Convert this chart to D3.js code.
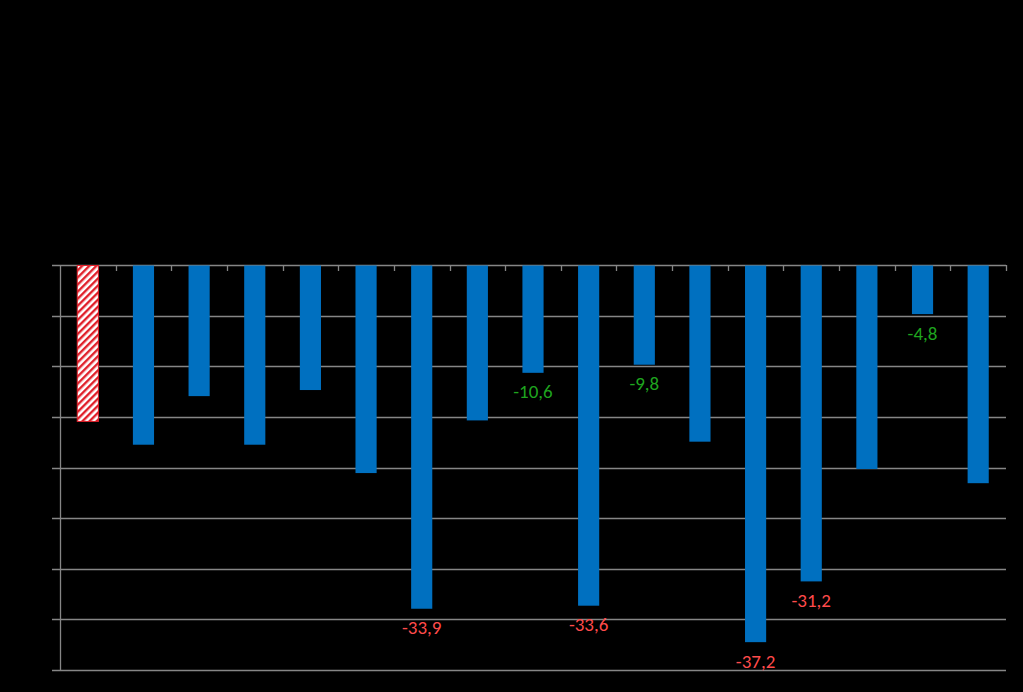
<!DOCTYPE html>
<html><head><meta charset="utf-8">
<script src="https://cdn.jsdelivr.net/npm/d3@7"></script>
<style>html,body{margin:0;padding:0;background:#000;}svg{display:block;}</style>
</head><body>
<svg id="c" width="1023" height="692"></svg>
<script>
const categories = ["1","2","3","4","5","6","7","8","9","10","11","12","13","14","15","16","17"];
const values = [-15.4,-17.7,-12.9,-17.7,-12.3,-20.5,-33.9,-15.3,-10.6,-33.6,-9.8,-17.4,-37.2,-31.2,-20.1,-4.8,-21.5];
const labelText = ["","","","","","","-33,9","","-10,6","-33,6","-9,8","","-37,2","-31,2","","-4,8",""];
const labelKind = ["","","","","","","bad","","good","bad","good","","bad","bad","","good",""];
const yTicks = [0,-5,-10,-15,-20,-25,-30,-35,-40];

(function(){
const svg = d3.select("#c");
const mLeft = 60, mRight = 1006, mTop = 265, mBottom = 670;
const x = d3.scaleBand().domain(categories).range([mLeft, mRight]).paddingInner(0.62).paddingOuter(0.31);
const y = d3.scaleLinear().domain([0, -40]).range([mTop, mBottom]);

const defs = svg.append("defs");
const pat = defs.append("pattern").attr("id","hatch").attr("patternUnits","userSpaceOnUse")
  .attr("width",5).attr("height",5).attr("patternTransform","rotate(45)");
pat.append("rect").attr("width",5).attr("height",5).attr("fill","#fff");
pat.append("rect").attr("width",2.4).attr("height",5).attr("fill","#e0202a");

// gridlines
svg.append("g").selectAll("line").data(yTicks).join("line")
  .attr("x1", 52).attr("x2", mRight).attr("y1", d=>Math.round(y(d))+0.5).attr("y2", d=>Math.round(y(d))+0.5)
  .attr("stroke","#868686").attr("stroke-width",1.3);

// left axis
svg.append("line").attr("x1",mLeft+0.5).attr("x2",mLeft+0.5).attr("y1",mTop).attr("y2",mBottom+1)
  .attr("stroke","#868686").attr("stroke-width",1.3);

// category ticks
const edges = categories.map(c => x(c) - x.step()*x.paddingInner()/2);
edges.push(mRight);
svg.append("g").selectAll("line").data(edges.slice(1)).join("line")
  .attr("x1", d=>Math.round(d)+0.5).attr("x2", d=>Math.round(d)+0.5).attr("y1", mTop).attr("y2", mTop+6)
  .attr("stroke","#868686").attr("stroke-width",1.3);

// bars
svg.append("g").selectAll("rect").data(values).join("rect")
  .attr("x",(d,i)=>x(categories[i])).attr("width",x.bandwidth())
  .attr("y", y(0)+0.5).attr("height", d=>y(d)-y(0))
  .attr("fill",(d,i)=> i===0 ? "url(#hatch)" : "#0070c0")
  .attr("stroke",(d,i)=> i===0 ? "#e0202a" : "none").attr("stroke-width",1);

// labels
svg.append("g").selectAll("text").data(values).join("text")
  .attr("x",(d,i)=>x(categories[i])+x.bandwidth()/2)
  .attr("y", d=>y(d)+26)
  .attr("text-anchor","middle")
  .attr("font-family","Carlito, 'Open Sans', 'Liberation Sans', sans-serif")
  .attr("font-size",19)
  .attr("fill",(d,i)=> labelKind[i]==="bad" ? "#ff4b4b" : "#1fa51f")
  .text((d,i)=>labelText[i]);
})();
</script>
</body></html>
